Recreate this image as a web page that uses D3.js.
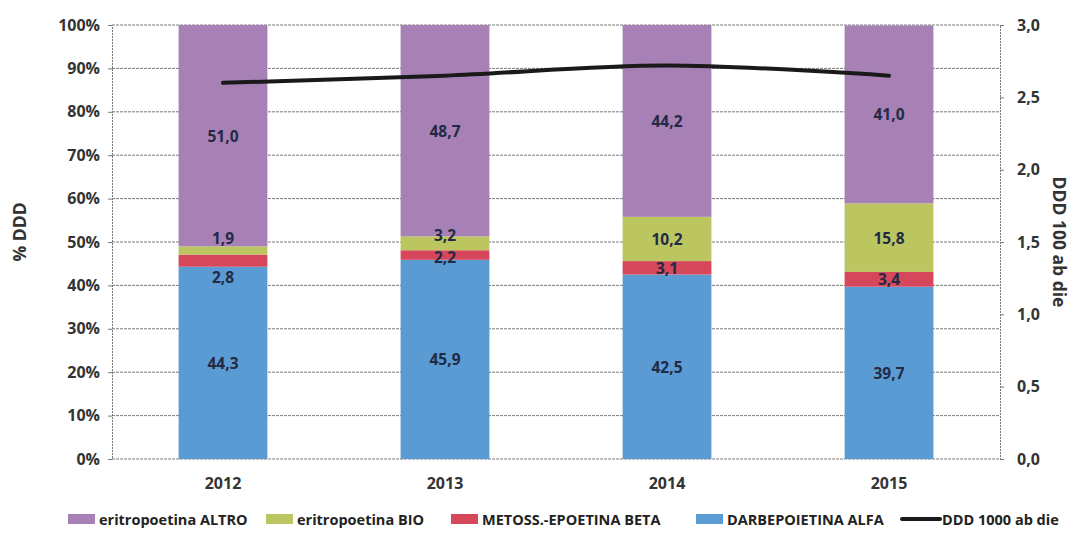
<!DOCTYPE html>
<html>
<head>
<meta charset="utf-8">
<script src="https://cdn.jsdelivr.net/npm/d3@7/dist/d3.min.js"></script>
<style>
  html, body { margin: 0; padding: 0; background: #fff; }
  svg { display: block; }
  text { font-family: "Open Sans", Lato, "Liberation Sans", sans-serif; font-weight: 700; }
</style>
</head>
<body>
<svg id="chart" width="1079" height="535"></svg>
<script>
// Categories and series (share of DDD, %)
const years = ["2012", "2013", "2014", "2015"];
const darbepoietinaAlfa = [44.3, 45.9, 42.5, 39.7];
const metossEpoetinaBeta = [2.8, 2.2, 3.1, 3.4];
const eritropoetinaBio = [1.9, 3.2, 10.2, 15.8];
const eritropoetinaAltro = [51.0, 48.7, 44.2, 41.0];
// Consumption, DDD per 1000 inhabitants per day (secondary axis)
const dddPerDay = [2.60, 2.65, 2.72, 2.65];

// Axis tick values
const pctTicks = [0, 10, 20, 30, 40, 50, 60, 70, 80, 90, 100];
const dddTicks = [0, 0.5, 1.0, 1.5, 2.0, 2.5, 3.0];

// Series definitions, stacked bottom to top
const series = [
  { key: "darbe", name: "DARBEPOIETINA ALFA", values: darbepoietinaAlfa, color: "#5b9bd3" },
  { key: "beta",  name: "METOSS.-EPOETINA BETA", values: metossEpoetinaBeta, color: "#d6475b" },
  { key: "bio",   name: "eritropoetina BIO", values: eritropoetinaBio, color: "#bcc660" },
  { key: "altro", name: "eritropoetina ALTRO", values: eritropoetinaAltro, color: "#a781b6" }
];

// Small vertical nudges (px) for labels of thin segments, to keep them readable
const labelNudge = { "2012": { bio: -12, beta: 16 }, "2013": { bio: -8, beta: 2 } };

const svg = d3.select("#chart");
const plot = { left: 112, right: 1000, top: 25, bottom: 459 };

const x = d3.scaleBand().domain(years).range([plot.left, plot.right]).paddingInner(0.6).paddingOuter(0.3);
const yPct = d3.scaleLinear().domain([0, 100]).range([plot.bottom, plot.top]);
const yDdd = d3.scaleLinear().domain([0, 3]).range([plot.bottom, plot.top]);

const fmt = v => d3.format(".1f")(v).replace(".", ",");

// Gridlines
svg.append("g")
  .selectAll("line")
  .data(pctTicks)
  .join("line")
  .attr("x1", plot.left).attr("x2", plot.right)
  .attr("y1", d => yPct(d)).attr("y2", d => yPct(d))
  .attr("stroke", "#7a7a7a").attr("stroke-width", 1)
  .attr("stroke-dasharray", "3,1");

// Stacked bars
const rows = years.map((yr, i) => {
  const r = { year: yr };
  series.forEach(s => { r[s.key] = s.values[i]; });
  return r;
});
const stack = d3.stack().keys(series.map(s => s.key));
const layers = stack(rows);

const barG = svg.append("g");
layers.forEach((layer, li) => {
  barG.append("g")
    .attr("fill", series[li].color)
    .selectAll("rect")
    .data(layer)
    .join("rect")
    .attr("x", d => x(d.data.year))
    .attr("width", x.bandwidth())
    .attr("y", d => yPct(d[1]))
    .attr("height", d => yPct(d[0]) - yPct(d[1]));
});

// Value labels
layers.forEach((layer, li) => {
  const key = series[li].key;
  svg.append("g")
    .selectAll("text")
    .data(layer)
    .join("text")
    .attr("x", d => x(d.data.year) + x.bandwidth() / 2)
    .attr("y", d => {
      const n = (labelNudge[d.data.year] || {})[key] || 0;
      return yPct((d[0] + d[1]) / 2) + n;
    })
    .attr("text-anchor", "middle")
    .attr("dominant-baseline", "central")
    .attr("font-size", 15.5)
    .attr("fill", "#222a44")
    .text(d => fmt(d[1] - d[0]));
});

// DDD line (smoothed)
const line = d3.line()
  .x((d, i) => x(years[i]) + x.bandwidth() / 2)
  .y(d => yDdd(d))
  .curve(d3.curveCatmullRom.alpha(0.5));
svg.append("path")
  .datum(dddPerDay)
  .attr("d", line)
  .attr("fill", "none")
  .attr("stroke", "#1a1a1a")
  .attr("stroke-width", 4)
  .attr("stroke-linecap", "round");

// Left axis
const leftAxis = svg.append("g")
  .attr("transform", `translate(${plot.left},0)`)
  .call(d3.axisLeft(yPct).tickValues(pctTicks).tickFormat(d => d + "%").tickSize(4).tickPadding(8));
leftAxis.select(".domain").attr("stroke", "#777").attr("stroke-dasharray", "2,1");
leftAxis.selectAll(".tick line").attr("stroke", "#777");
leftAxis.selectAll(".tick text").attr("font-size", 16).attr("fill", "#333")
  .style("font-family", "'Open Sans', sans-serif").style("font-weight", 700);

// Right axis
const rightAxis = svg.append("g")
  .attr("transform", `translate(${plot.right},0)`)
  .call(d3.axisRight(yDdd).tickValues(dddTicks).tickFormat(d => fmt(d)).tickSize(4).tickPadding(13));
rightAxis.select(".domain").attr("stroke", "#777").attr("stroke-dasharray", "2,1");
rightAxis.selectAll(".tick line").attr("stroke", "#777");
rightAxis.selectAll(".tick text").attr("font-size", 16).attr("fill", "#333")
  .style("font-family", "'Open Sans', sans-serif").style("font-weight", 700);

// Bottom category labels
svg.append("g")
  .selectAll("text")
  .data(years)
  .join("text")
  .attr("x", d => x(d) + x.bandwidth() / 2)
  .attr("y", 483)
  .attr("text-anchor", "middle")
  .attr("dominant-baseline", "central")
  .attr("font-size", 16)
  .attr("fill", "#333")
  .text(d => d);

// Axis titles
svg.append("text")
  .attr("transform", "translate(19,232) rotate(-90)")
  .attr("text-anchor", "middle")
  .attr("dominant-baseline", "central")
  .attr("font-size", 17.5)
  .attr("fill", "#333")
  .text("% DDD");

svg.append("text")
  .attr("transform", "translate(1060,242) rotate(90)")
  .attr("text-anchor", "middle")
  .attr("dominant-baseline", "central")
  .attr("font-size", 17.5)
  .attr("fill", "#333")
  .text("DDD 100 ab die");

// Legend: text start positions; swatches sit just left of their text
const legendItems = [
  { name: "eritropoetina ALTRO", color: "#a781b6", type: "box", x: 99 },
  { name: "eritropoetina BIO", color: "#bcc660", type: "box", x: 297 },
  { name: "METOSS.-EPOETINA BETA", color: "#d6475b", type: "box", x: 482 },
  { name: "DARBEPOIETINA ALFA", color: "#5b9bd3", type: "box", x: 727 },
  { name: "DDD 1000 ab die", color: "#1a1a1a", type: "line", x: 942 }
];
const legendY = 519;
const lg = svg.append("g");
legendItems.forEach(it => {
  const g = lg.append("g").attr("transform", `translate(${it.x},${legendY})`);
  if (it.type === "box") {
    g.append("rect").attr("x", -31).attr("y", -5).attr("width", 27).attr("height", 10).attr("fill", it.color);
  } else {
    g.append("line").attr("x1", -40).attr("x2", -2).attr("y1", 0).attr("y2", 0)
      .attr("stroke", it.color).attr("stroke-width", 4).attr("stroke-linecap", "round");
  }
  g.append("text")
    .attr("x", 0)
    .attr("y", 0)
    .attr("dominant-baseline", "central")
    .attr("font-size", 14.5)
    .attr("fill", "#222")
    .text(it.name);
});
</script>
</body>
</html>
